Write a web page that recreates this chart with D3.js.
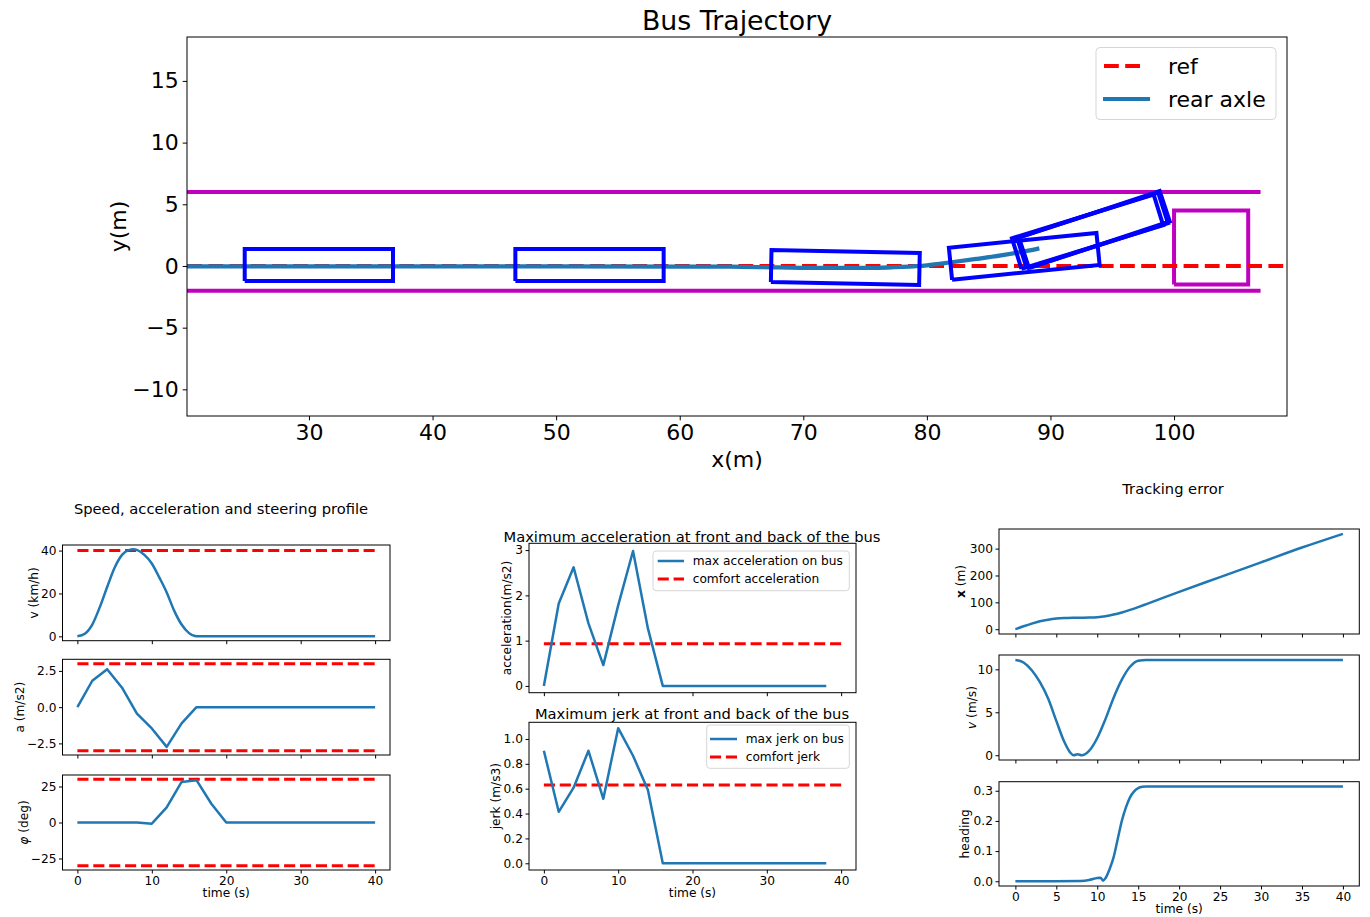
<!DOCTYPE html>
<html><head><meta charset="utf-8">
<script src="https://cdn.jsdelivr.net/npm/d3@7"></script>
<style>
body{margin:0;background:#fff}
svg{display:block}
text{font-family:"DejaVu Sans",sans-serif;fill:#000}
</style>
</head><body><svg id="c" width="1370" height="917"></svg>
<script>
// ---------------- DATA ----------------
// Top: bus trajectory
const trajX = [15, 30, 40, 50, 60, 64, 68, 72, 76, 78, 80, 82, 84, 86, 88, 89.1];
const trajY = [-0.04, -0.04, -0.04, -0.04, -0.05, -0.06, -0.12, -0.16, -0.15, -0.08, 0.05, 0.3, 0.57, 0.86, 1.2, 1.43];
const refX = [15, 115];
const refY = [0, 0];
const laneX = [15, 107];
const laneTopY = 6;
const laneBottomY = -2;
const obstacleX = [100, 106];
const obstacleY = [-1.5, 4.5];
const busCx = [30.8, 52.7, 73.4, 87.88, 93.0, 93.4, 93.55];
const busCy = [0.08, 0.08, -0.12, 0.78, 2.78, 2.88, 2.95];
const busHeading = [0, 0, -0.02, 0.10, 0.30, 0.31, 0.32];
const busLength = 12;
const busWidth = 2.6;
const topXTicks = [30, 40, 50, 60, 70, 80, 90, 100];
const topYTicks = [-10, -5, 0, 5, 10, 15];

// Left: speed, acceleration, steering profile
const speedT = [0, 1, 2, 3, 4, 5, 6, 7, 7.5, 8, 9, 10, 11, 12, 13, 14, 15, 16, 40];
const speedV = [0, 1.2, 5.5, 13.5, 23, 32, 38, 40.3, 40.6, 40.3, 38, 34, 27.5, 20.5, 12, 5.5, 1.5, 0, 0];
const speedLimit = 40;
const accT = [0, 2, 4, 6, 8, 10, 12, 14, 16, 40];
const accV = [0, 1.82, 2.62, 1.34, -0.44, -1.47, -2.74, -1.12, 0, 0];
const accLimit = 3;
const steerT = [0, 2, 4, 6, 8, 10, 12, 14, 16, 18, 20, 40];
const steerV = [0, 0, 0, 0, 0, -0.8, 10.5, 28.2, 29.4, 13, 0, 0];
const steerLimit = 30;
const timeTicks10 = [0, 10, 20, 30, 40];

// Middle: max acceleration & jerk
const maxAccT = [0, 2, 4, 6, 8, 10, 12, 14, 16, 38];
const maxAccV = [0, 1.82, 2.62, 1.38, 0.46, 1.78, 2.98, 1.27, 0, 0];
const comfortAcc = 0.93;
const maxJerkT = [0, 2, 4, 6, 8, 10, 12, 14, 16, 38];
const maxJerkV = [0.905, 0.414, 0.608, 0.905, 0.519, 1.087, 0.865, 0.589, 0, 0];
const comfortJerk = 0.63;

// Right: tracking error
const trackT = [0, 1, 2, 3, 4, 5, 6, 7, 8, 9, 10, 11, 12, 13, 14, 15, 16, 20, 25, 30, 35, 40];
const trackX = [0, 11, 21, 29.5, 35.5, 39.5, 41.5, 42.5, 43, 43.5, 45, 48.5, 54.5, 62.5, 72, 82.5, 93.5, 139, 194, 249, 304, 355];
const trackVT = [0, 1, 2, 3, 4, 5, 6, 6.7, 7.1, 7.6, 8.1, 9, 10, 11, 12, 13, 14, 15, 16, 40];
const trackV = [11.1, 10.8, 9.9, 8.5, 6.6, 4.0, 1.5, 0.3, 0, 0.12, 0, 0.5, 2.0, 4.2, 6.7, 8.8, 10.3, 11.0, 11.1, 11.1];
const headT = [0, 8, 9, 10, 10.4, 10.7, 11, 11.5, 12, 12.5, 13, 13.5, 14, 14.5, 15, 15.5, 16, 40];
const headV = [0, 0.001, 0.004, 0.011, 0.012, 0.002, 0.01, 0.04, 0.08, 0.14, 0.2, 0.245, 0.278, 0.298, 0.309, 0.313, 0.314, 0.314];
const timeTicks5 = [0, 5, 10, 15, 20, 25, 30, 35, 40];

// ---------------- DRAW ----------------
const svg = d3.select("#c");
const BLUE = "#1f77b4", RED = "#ff0000", MAG = "#bf00bf", BUS = "#0000ff";
const FS = 12.2;

function styleAxis(g, fs) {
  g.select(".domain").remove();
  g.selectAll(".tick line").attr("stroke", "#000").attr("stroke-width", 1);
  g.selectAll(".tick text").attr("font-size", fs).attr("font-family", "DejaVu Sans").attr("fill", "#000");
}

let clipN = 0;
function panel(o) {
  const g = svg.append("g");
  const x = d3.scaleLinear().domain(o.xd).range([o.x0, o.x1]);
  const y = d3.scaleLinear().domain(o.yd).range([o.y1, o.y0]);
  const id = "clip" + (clipN++);
  svg.append("clipPath").attr("id", id).append("rect")
    .attr("x", o.x0).attr("y", o.y0).attr("width", o.x1 - o.x0).attr("height", o.y1 - o.y0);
  const plot = g.append("g").attr("clip-path", `url(#${id})`);
  const xa = g.append("g").attr("transform", `translate(0,${o.y1})`)
    .call(d3.axisBottom(x).tickValues(o.xt).tickSize(o.tl || 3.5).tickPadding(o.tp || 2.5)
      .tickFormat(o.xLabels ? (o.xf || d3.format("d")) : () => ""));
  styleAxis(xa, o.fs || FS);
  const ya = g.append("g").attr("transform", `translate(${o.x0},0)`)
    .call(d3.axisLeft(y).tickValues(o.yt).tickSize(o.tl || 3.5).tickPadding(o.tp || 2.5).tickFormat(o.yf || d3.format("d")));
  styleAxis(ya, o.fs || FS);
  g.append("rect").attr("x", o.x0).attr("y", o.y0).attr("width", o.x1 - o.x0).attr("height", o.y1 - o.y0)
    .attr("fill", "none").attr("stroke", "#000").attr("stroke-width", 1);
  if (o.ylabel) {
    const t = g.append("text").attr("transform", `translate(${o.ylx},${(o.y0 + o.y1) / 2}) rotate(-90)`)
      .attr("text-anchor", "middle").attr("dy", "0.35em").attr("font-size", o.lfs || FS);
    o.ylabel(t);
  }
  if (o.xlabel) {
    g.append("text").attr("x", (o.x0 + o.x1) / 2).attr("y", o.y1 + (o.xly || 27))
      .attr("text-anchor", "middle").attr("font-size", o.lfs || FS).text(o.xlabel);
  }
  return { g, plot, x, y };
}

function lineOf(p, xs, ys, curve) {
  return d3.line().x((d, i) => p.x(xs[i])).y((d, i) => p.y(ys[i])).curve(curve || d3.curveLinear)(xs);
}

function hline(p, val, x0, x1, lw) {
  p.plot.append("path").attr("d", lineOf(p, [x0, x1], [val, val]))
    .attr("stroke", RED).attr("stroke-width", lw || 3).attr("fill", "none")
    .attr("stroke-dasharray", `${3.7 * (lw || 3)},${1.6 * (lw || 3)}`);
}
function series(p, xs, ys, curve, lw) {
  p.plot.append("path").attr("d", lineOf(p, xs, ys, curve))
    .attr("stroke", BLUE).attr("stroke-width", lw || 2.5).attr("fill", "none")
    .attr("stroke-linejoin", "round").attr("stroke-linecap", "butt");
}

// ----- Top chart -----
const topP = panel({
  x0: 187, x1: 1287, y0: 37, y1: 416,
  xd: [20.13, 109.14], yd: [-12.16, 18.56],
  xt: topXTicks, yt: topYTicks, xLabels: true, fs: 22, tl: 4.3, tp: 4,
  ylabel: t => t.text("y(m)"), ylx: 118, lfs: 22,
  xlabel: "x(m)", xly: 51
});
[laneTopY, laneBottomY].forEach(v => {
  topP.plot.append("path").attr("d", lineOf(topP, laneX, [v, v]))
    .attr("stroke", MAG).attr("stroke-width", 4).attr("fill", "none");
});
topP.plot.append("path")
  .attr("d", lineOf(topP,
    [obstacleX[0], obstacleX[1], obstacleX[1], obstacleX[0], obstacleX[0]],
    [obstacleY[0], obstacleY[0], obstacleY[1], obstacleY[1], obstacleY[0]]))
  .attr("stroke", MAG).attr("stroke-width", 4).attr("fill", "none").attr("stroke-linejoin", "miter");
topP.plot.append("path").attr("d", lineOf(topP, refX, refY))
  .attr("stroke", RED).attr("stroke-width", 4).attr("fill", "none").attr("stroke-dasharray", "14.8,6.4");
topP.plot.append("path").attr("d", lineOf(topP, trajX, trajY, d3.curveMonotoneX))
  .attr("stroke", BLUE).attr("stroke-width", 4.2).attr("fill", "none");
busCx.forEach((cx, i) => {
  const th = busHeading[i], cy = busCy[i];
  const c = Math.cos(th), s = Math.sin(th);
  const pts = [[-1, -1], [1, -1], [1, 1], [-1, 1], [-1, -1]].map(([a, b]) => {
    const dx = a * busLength / 2, dy = b * busWidth / 2;
    return [cx + dx * c - dy * s, cy + dx * s + dy * c];
  });
  topP.plot.append("path")
    .attr("d", lineOf(topP, pts.map(p => p[0]), pts.map(p => p[1])))
    .attr("stroke", BUS).attr("stroke-width", 4).attr("fill", "none").attr("stroke-linejoin", "miter");
});
svg.append("text").attr("x", 737).attr("y", 30).attr("text-anchor", "middle").attr("font-size", 26.8).text("Bus Trajectory");
{
  const lg = svg.append("g");
  lg.append("rect").attr("x", 1096).attr("y", 47.5).attr("width", 180).attr("height", 72).attr("rx", 4)
    .attr("fill", "#fff").attr("fill-opacity", 0.8).attr("stroke", "#d6d6d6").attr("stroke-width", 1);
  lg.append("line").attr("x1", 1104).attr("x2", 1141).attr("y1", 66).attr("y2", 66)
    .attr("stroke", RED).attr("stroke-width", 4).attr("stroke-dasharray", "14.8,6.4");
  lg.append("line").attr("x1", 1103).attr("x2", 1150).attr("y1", 99).attr("y2", 99)
    .attr("stroke", BLUE).attr("stroke-width", 4.2);
  lg.append("text").attr("x", 1168).attr("y", 66).attr("dy", "0.35em").attr("font-size", 22).text("ref");
  lg.append("text").attr("x", 1168).attr("y", 99).attr("dy", "0.35em").attr("font-size", 22).text("rear axle");
}

// ----- Left column -----
svg.append("text").attr("x", 221).attr("y", 514).attr("text-anchor", "middle").attr("font-size", 14.7)
  .text("Speed, acceleration and steering profile");
const L = { x0: 62.5, x1: 390, xd: [-2, 42], xt: timeTicks10 };
const pv = panel({ ...L, y0: 545, y1: 640.7, yd: [-2.03, 42.6], yt: [0, 20, 40],
  ylabel: t => t.text("v (km/h)"), ylx: 34 });
hline(pv, speedLimit, 0, 40);
series(pv, speedT, speedV, d3.curveMonotoneX);
const pa = panel({ ...L, y0: 659.3, y1: 755, yd: [-3.3, 3.3], yt: [-2.5, 0, 2.5], yf: d3.format(".1f"),
  ylabel: t => t.text("a (m/s2)"), ylx: 20 });
hline(pa, accLimit, 0, 40);
hline(pa, -accLimit, 0, 40);
series(pa, accT, accV);
const ps = panel({ ...L, y0: 775, y1: 870, yd: [-33, 33], yt: [-25, 0, 25], xLabels: true,
  ylabel: t => { t.append("tspan").attr("font-style", "italic").text("φ"); t.append("tspan").text(" (deg)"); },
  ylx: 24, xlabel: "time (s)" });
hline(ps, steerLimit, 0, 40);
hline(ps, -steerLimit, 0, 40);
series(ps, steerT, steerV);

// ----- Middle column -----
const M = { x0: 529, x1: 856, xd: [-2, 42], xt: timeTicks10 };
svg.append("text").attr("x", 692).attr("y", 542).attr("text-anchor", "middle").attr("font-size", 14.7)
  .text("Maximum acceleration at front and back of the bus");
const pma = panel({ ...M, y0: 543.3, y1: 692.7, yd: [-0.15, 3.15], yt: [0, 1, 2, 3],
  ylabel: t => t.text("acceleration(m/s2)"), ylx: 507 });
hline(pma, comfortAcc, 0, 40);
series(pma, maxAccT, maxAccV);
svg.append("text").attr("x", 692).attr("y", 719).attr("text-anchor", "middle").attr("font-size", 14.7)
  .text("Maximum jerk at front and back of the bus");
const pmj = panel({ ...M, y0: 722.3, y1: 870, yd: [-0.054, 1.134], yt: [0, 0.2, 0.4, 0.6, 0.8, 1.0],
  yf: d3.format(".1f"), xLabels: true,
  ylabel: t => t.text("jerk (m/s3)"), ylx: 495.7, xlabel: "time (s)" });
hline(pmj, comfortJerk, 0, 40);
series(pmj, maxJerkT, maxJerkV);

function smallLegend(x, y, w, h, hx0, hx1, tx, items) {
  const lg = svg.append("g");
  lg.append("rect").attr("x", x).attr("y", y).attr("width", w).attr("height", h).attr("rx", 3)
    .attr("fill", "#fff").attr("fill-opacity", 0.8).attr("stroke", "#d6d6d6").attr("stroke-width", 1);
  items.forEach(it => {
    const ln = lg.append("line").attr("x1", hx0).attr("x2", hx1).attr("y1", it.y).attr("y2", it.y)
      .attr("stroke", it.dashed ? RED : BLUE).attr("stroke-width", it.dashed ? 3 : 2.5);
    if (it.dashed) ln.attr("stroke-dasharray", "11.1,4.8");
    lg.append("text").attr("x", tx).attr("y", it.y).attr("dy", "0.35em").attr("font-size", FS).text(it.label);
  });
}
smallLegend(653, 551, 196.3, 39.7, 657.7, 684, 692.7, [
  { y: 561, label: "max acceleration on bus" },
  { y: 579, label: "comfort acceleration", dashed: true }]);
smallLegend(706.7, 725, 142.6, 43.3, 710, 737, 745.7, [
  { y: 739, label: "max jerk on bus" },
  { y: 757, label: "comfort jerk", dashed: true }]);

// ----- Right column -----
svg.append("text").attr("x", 1173).attr("y", 494).attr("text-anchor", "middle").attr("font-size", 14.7)
  .text("Tracking error");
const R = { x0: 999, x1: 1359.3, xd: [-2, 42], xt: timeTicks5 };
const prx = panel({ ...R, y0: 529, y1: 634, yd: [-17.75, 373], yt: [0, 100, 200, 300],
  ylabel: t => { t.append("tspan").attr("font-weight", "bold").text("x"); t.append("tspan").text(" (m)"); }, ylx: 961 });
series(prx, trackT, trackX, d3.curveMonotoneX);
const prv = panel({ ...R, y0: 655, y1: 760, yd: [-0.556, 11.67], yt: [0, 5, 10],
  ylabel: t => { t.append("tspan").attr("font-style", "italic").text("v"); t.append("tspan").text(" (m/s)"); }, ylx: 972 });
series(prv, trackVT, trackV, d3.curveMonotoneX);
const prh = panel({ ...R, y0: 781.7, y1: 886, yd: [-0.0157, 0.33], yt: [0, 0.1, 0.2, 0.3], yf: d3.format(".1f"),
  xLabels: true, ylabel: t => t.text("heading"), ylx: 965, xlabel: "time (s)" });
series(prh, headT, headV, d3.curveMonotoneX);
</script>
</body></html>
